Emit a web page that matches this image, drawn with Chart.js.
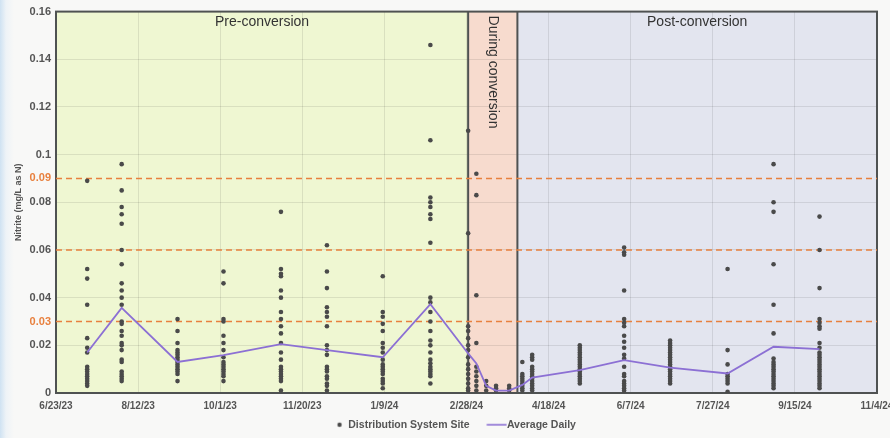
<!DOCTYPE html>
<html>
<head>
<meta charset="utf-8">
<script src="https://cdn.jsdelivr.net/npm/chart.js@4.4.1/dist/chart.umd.min.js"></script>
<style>
    html, body { margin: 0; padding: 0; }
    body {
        width: 890px; height: 438px; overflow: hidden;
        background: linear-gradient(to right, #cfe2f2 0px, #eef3f7 6px, #f8f8f7 14px);
    }
</style>
</head>
<body>
<canvas id="myChart" width="890" height="438"></canvas>
<script>
// ---- data ----
var startDate = '2023-06-23';
var xTickDates = ['2023-06-23', '2023-08-12', '2023-10-01', '2023-11-20', '2024-01-09', '2024-02-28',
    '2024-04-18', '2024-06-07', '2024-07-27', '2024-09-15', '2024-11-04'];
var yTicks = [0, 0.02, 0.04, 0.06, 0.08, 0.1, 0.12, 0.14, 0.16];
var limitValues = [0.03, 0.06, 0.09];
var limitLabels = [0.03, 0.09];

var phaseNames = ['Pre-conversion', 'During conversion', 'Post-conversion'];
var phaseStarts = ['2023-06-23', '2024-02-29', '2024-03-30'];
var phaseEnds = ['2024-02-29', '2024-03-30', '2024-11-04'];

var sampleDates = ['2023-07-12', '2023-08-02', '2023-09-05', '2023-10-03', '2023-11-07', '2023-12-05',
    '2024-01-08', '2024-02-06', '2024-02-29', '2024-03-05', '2024-03-11', '2024-03-17', '2024-03-25',
    '2024-04-02', '2024-04-08', '2024-05-07', '2024-06-03', '2024-07-01', '2024-08-05', '2024-09-02',
    '2024-09-30'];

var siteValues = [
    [0.089, 0.052, 0.048, 0.037, 0.023, 0.019, 0.017, 0.011, 0.010, 0.009, 0.008, 0.007, 0.006, 0.005, 0.004, 0.003],
    [0.096, 0.085, 0.078, 0.075, 0.071, 0.060, 0.054, 0.046, 0.043, 0.040, 0.037, 0.030, 0.029, 0.026, 0.024, 0.021, 0.020, 0.018, 0.014, 0.013, 0.009, 0.008, 0.007, 0.006, 0.005],
    [0.031, 0.026, 0.021, 0.018, 0.017, 0.016, 0.015, 0.014, 0.013, 0.012, 0.011, 0.010, 0.009, 0.008, 0.005],
    [0.051, 0.046, 0.031, 0.030, 0.024, 0.021, 0.018, 0.015, 0.013, 0.012, 0.011, 0.010, 0.009, 0.008, 0.007, 0.005],
    [0.076, 0.052, 0.050, 0.049, 0.043, 0.040, 0.034, 0.031, 0.028, 0.025, 0.021, 0.017, 0.014, 0.011, 0.010, 0.009, 0.008, 0.007, 0.006, 0.005, 0.001],
    [0.062, 0.051, 0.044, 0.036, 0.034, 0.032, 0.028, 0.020, 0.018, 0.016, 0.011, 0.010, 0.009, 0.007, 0.006, 0.004, 0.003, 0.001],
    [0.049, 0.034, 0.032, 0.029, 0.026, 0.021, 0.019, 0.017, 0.014, 0.012, 0.011, 0.010, 0.009, 0.008, 0.006, 0.005, 0.004, 0.002],
    [0.146, 0.106, 0.082, 0.080, 0.078, 0.075, 0.073, 0.063, 0.040, 0.038, 0.034, 0.030, 0.026, 0.022, 0.020, 0.017, 0.014, 0.0125, 0.011, 0.010, 0.009, 0.008, 0.007, 0.004],
    [0.110, 0.067, 0.028, 0.026, 0.023, 0.020, 0.018, 0.015, 0.012, 0.010, 0.008, 0.006, 0.004, 0.002, 0.001],
    [0.092, 0.083, 0.041, 0.021, 0.011, 0.009, 0.007, 0.005, 0.003, 0.001],
    [0.005, 0.003, 0.001],
    [0.003, 0.002, 0.001],
    [0.003, 0.002, 0.001],
    [0.013, 0.008, 0.007, 0.006, 0.005, 0.004, 0.003, 0.002, 0.001],
    [0.016, 0.015, 0.014, 0.011, 0.010, 0.009, 0.008, 0.007, 0.006, 0.005, 0.004, 0.003, 0.002, 0.001],
    [0.020, 0.019, 0.018, 0.017, 0.016, 0.015, 0.014, 0.013, 0.012, 0.011, 0.010, 0.009, 0.008, 0.007, 0.006, 0.005, 0.004],
    [0.061, 0.059, 0.058, 0.043, 0.031, 0.0295, 0.028, 0.024, 0.0215, 0.019, 0.016, 0.0145, 0.011, 0.008, 0.007, 0.005, 0.004, 0.003, 0.002, 0.001, 0],
    [0.022, 0.021, 0.020, 0.019, 0.018, 0.017, 0.016, 0.015, 0.014, 0.013, 0.012, 0.011, 0.010, 0.009, 0.008, 0.007, 0.006, 0.005, 0.004],
    [0.052, 0.018, 0.012, 0.008, 0.007, 0.006, 0.005, 0.004, 0.0005],
    [0.096, 0.080, 0.076, 0.054, 0.037, 0.025, 0.0145, 0.013, 0.012, 0.011, 0.010, 0.009, 0.008, 0.007, 0.006, 0.005, 0.004, 0.003, 0.002],
    [0.074, 0.060, 0.044, 0.031, 0.0295, 0.028, 0.027, 0.021, 0.019, 0.017, 0.016, 0.015, 0.014, 0.013, 0.012, 0.011, 0.010, 0.009, 0.008, 0.007, 0.006, 0.005, 0.004, 0.003, 0.002]
];

var dailyAverage = [0.017, 0.0357, 0.013, 0.0159, 0.0205, 0.018, 0.015, 0.0373, 0.0166, 0.0124, 0.003,
    0.001, 0.001, 0.0034, 0.0065, 0.0096, 0.0138, 0.0106, 0.0082, 0.0194, 0.0184];

// ---- styles ----
var FONT = "'Liberation Sans', Arial, sans-serif";
var textGray = '#555555';
var orange = '#e8803e';
var dotColor = '#4a4a4a';
var avgColor = '#8c70d4';
var phaseFills = ['rgba(239, 247, 210, 1)', 'rgba(247, 219, 206, 1)', 'rgba(227, 229, 239, 1)'];

function dayOf(s) {
    var p = s.split('-'), q = startDate.split('-');
    return (Date.UTC(+p[0], p[1] - 1, +p[2]) - Date.UTC(+q[0], q[1] - 1, +q[2])) / 86400000;
}
function fmtDay(v) {
    var q = startDate.split('-');
    var d = new Date(Date.UTC(+q[0], q[1] - 1, +q[2]) + v * 86400000);
    return (d.getUTCMonth() + 1) + '/' + d.getUTCDate() + '/' + String(d.getUTCFullYear()).slice(2);
}

var scatterPts = [];
sampleDates.forEach(function (d, i) {
    siteValues[i].forEach(function (v) { scatterPts.push({ x: dayOf(d), y: v }); });
});
var avgPts = sampleDates.map(function (d, i) { return { x: dayOf(d), y: dailyAverage[i] }; });

var xMin = dayOf(xTickDates[0]), xMax = dayOf(xTickDates[xTickDates.length - 1]);
var limitSets = limitValues.map(function (v) {
    return {
        type: 'line', label: 'limit ' + v, order: 2,
        data: [{ x: xMin, y: v }, { x: xMax, y: v }],
        borderColor: orange, borderWidth: 1.6, borderDash: [6, 4], pointRadius: 0, fill: false
    };
});

// legend icons (box is 29px wide, icon canvas 40px centred on it)
function makeIcon(kind) {
    var c = document.createElement('canvas');
    c.width = 40; c.height = 8;
    var g = c.getContext('2d');
    if (kind === 'dot') {
        g.fillStyle = dotColor;
        g.beginPath(); g.arc(31, 4, 2.2, 0, Math.PI * 2); g.fill();
    } else {
        g.strokeStyle = avgColor; g.lineWidth = 1.6;
        g.beginPath(); g.moveTo(19.5, 4); g.lineTo(39.5, 4); g.stroke();
    }
    return c;
}
var dotIcon = makeIcon('dot'), lineIcon = makeIcon('line');

var phasePlugin = {
    id: 'phases',
    beforeDraw: function (chart) {
        var ctx = chart.ctx, a = chart.chartArea, xs = chart.scales.x;
        ctx.save();
        for (var i = 0; i < phaseNames.length; i++) {
            var x0 = xs.getPixelForValue(dayOf(phaseStarts[i]));
            var x1 = xs.getPixelForValue(dayOf(phaseEnds[i]));
            ctx.fillStyle = phaseFills[i];
            ctx.fillRect(x0, a.top, x1 - x0, a.bottom - a.top);
        }
        ctx.restore();
    },
    beforeDatasetsDraw: function (chart) {
        var ctx = chart.ctx, a = chart.chartArea, xs = chart.scales.x;
        ctx.save();
        ctx.strokeStyle = '#4f5252';
        ctx.lineWidth = 2;
        ctx.strokeRect(a.left, a.top, a.right - a.left, a.bottom - a.top);
        for (var i = 1; i < phaseNames.length; i++) {
            var xb = xs.getPixelForValue(dayOf(phaseStarts[i]));
            ctx.beginPath(); ctx.moveTo(xb, a.top); ctx.lineTo(xb, a.bottom); ctx.stroke();
        }
        ctx.fillStyle = '#333333';
        ctx.font = '14px ' + FONT;
        ctx.textBaseline = 'middle';
        for (var j = 0; j < phaseNames.length; j++) {
            var p0 = xs.getPixelForValue(dayOf(phaseStarts[j]));
            var p1 = xs.getPixelForValue(dayOf(phaseEnds[j]));
            var cx = (p0 + p1) / 2;
            if (j === 1) {
                ctx.save();
                ctx.translate(cx, a.top + 4);
                ctx.rotate(Math.PI / 2);
                ctx.textAlign = 'left';
                ctx.fillText(phaseNames[j], 0, 0);
                ctx.restore();
            } else {
                ctx.textAlign = 'center';
                ctx.fillText(phaseNames[j], cx, a.top + 11);
            }
        }
        ctx.restore();
    }
};

var ctx = document.getElementById('myChart');
var xx = new Chart(ctx, {
    type: 'scatter',
    data: {
        datasets: [
            {
                type: 'scatter', label: 'Distribution System Site', order: 1,
                data: scatterPts, backgroundColor: dotColor, borderColor: dotColor,
                pointRadius: 2.3, pointBorderWidth: 0
            },
            {
                type: 'line', label: 'Average Daily', order: 0,
                data: avgPts, borderColor: avgColor, borderWidth: 1.8,
                pointRadius: 0, tension: 0, fill: false
            }
        ].concat(limitSets)
    },
    plugins: [phasePlugin],
    options: {
        responsive: false,
        animation: false,
        devicePixelRatio: 1,
        layout: { padding: { left: 0, right: 0, top: 10, bottom: -2 } },
        plugins: {
            tooltip: { enabled: false },
            legend: {
                position: 'bottom',
                labels: {
                    usePointStyle: true,
                    pointStyleWidth: 29,
                    padding: 3,
                    color: textGray,
                    font: { family: FONT, size: 10.5, weight: 'bold' },
                    filter: function (item) { return item.datasetIndex < 2; },
                    sort: function (a, b) { return a.datasetIndex - b.datasetIndex; },
                    generateLabels: function (chart) {
                        var items = Chart.defaults.plugins.legend.labels.generateLabels(chart);
                        items.forEach(function (it) {
                            it.pointStyle = it.datasetIndex === 0 ? dotIcon : lineIcon;
                        });
                        return items;
                    }
                }
            }
        },
        scales: {
            x: {
                type: 'linear', min: xMin, max: xMax,
                afterBuildTicks: function (scale) {
                    scale.ticks = xTickDates.map(function (d) { return { value: dayOf(d) }; });
                },
                afterFit: function (scale) {
                    scale.height = 23.5;
                    scale.paddingLeft = 0;
                    scale.paddingRight = 13;
                },
                grid: { color: 'rgba(0,0,0,0.09)', drawTicks: false },
                border: { display: false },
                ticks: {
                    padding: 7, maxRotation: 0, autoSkip: false,
                    color: textGray,
                    font: { family: FONT, size: 10, weight: 'bold' },
                    callback: function (v) { return fmtDay(v); }
                }
            },
            y: {
                min: 0, max: 0.16,
                afterBuildTicks: function (scale) {
                    scale.ticks = yTicks.concat(limitLabels).sort(function (a, b) { return a - b; })
                        .map(function (v) { return { value: v }; });
                },
                afterFit: function (scale) { scale.width = 56; },
                grid: {
                    drawTicks: false,
                    color: function (c) {
                        return (c.tick && limitLabels.indexOf(c.tick.value) >= 0) ? 'rgba(0,0,0,0)' : 'rgba(0,0,0,0.09)';
                    }
                },
                border: { display: false },
                title: {
                    display: true, text: 'Nitrite (mg/L as N)', color: textGray,
                    font: { family: FONT, size: 9, weight: 'bold' },
                    padding: { top: 13, bottom: 0 }
                },
                ticks: {
                    padding: 5, autoSkip: false,
                    font: { family: FONT, size: 11, weight: 'bold' },
                    color: function (c) {
                        return (c.tick && limitLabels.indexOf(c.tick.value) >= 0) ? orange : textGray;
                    },
                    callback: function (v) { return String(Math.round(v * 100) / 100); }
                }
            }
        }
    }
});
</script>
</body>
</html>
